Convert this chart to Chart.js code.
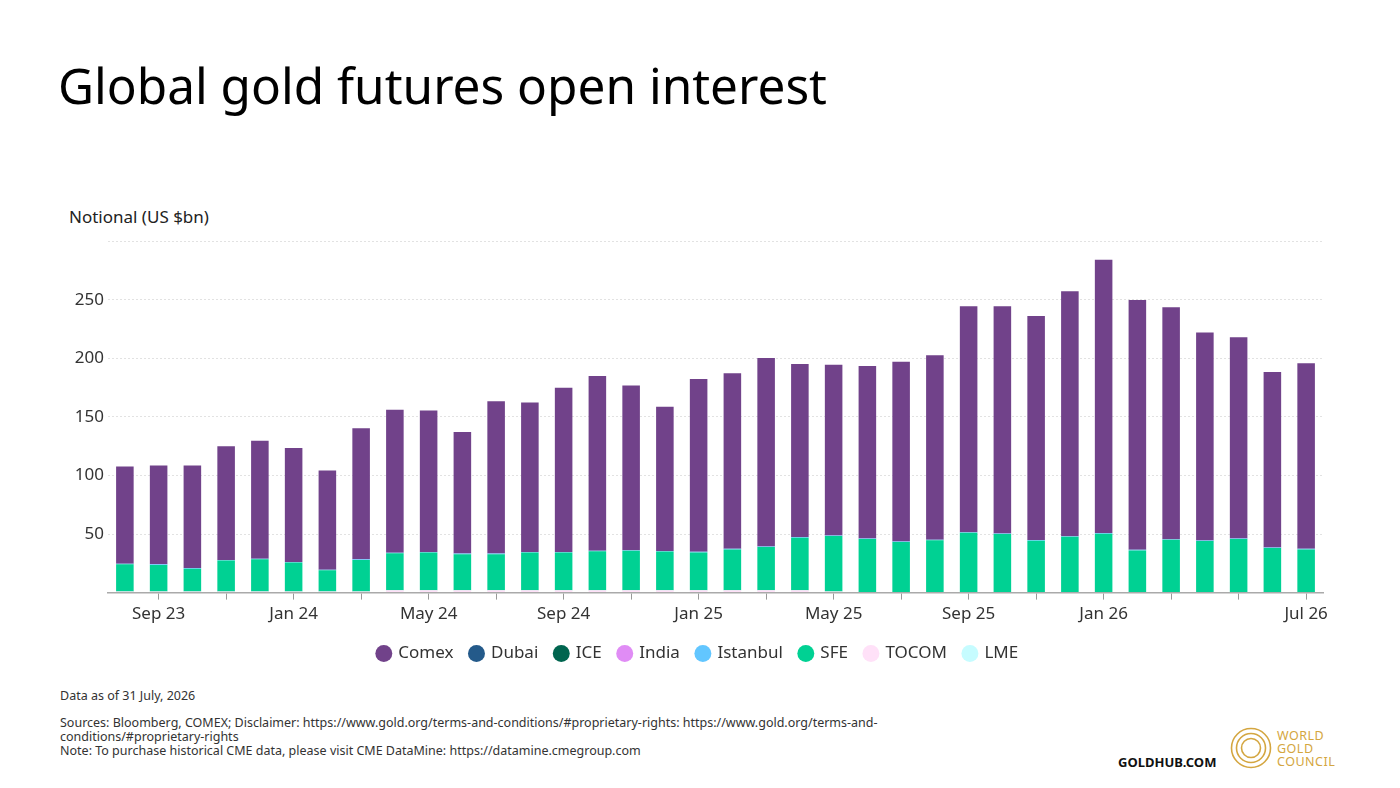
<!DOCTYPE html>
<html>
<head>
<meta charset="utf-8">
<script src="https://cdn.jsdelivr.net/npm/chart.js@4.4.1/dist/chart.umd.min.js"></script>
<style>
  html, body { margin: 0; padding: 0; background: #fff; }
  body { width: 1400px; height: 788px; position: relative; overflow: hidden; font-family: "Noto Sans", sans-serif; color: #222; }
  #title { position: absolute; left: 58px; top: 51px; font-size: 49.5px; color: #000; white-space: nowrap; }
  #ytitle { position: absolute; left: 69px; top: 205px; font-size: 17px; color: #222; }
  #wrap { position: absolute; left: 73px; top: 227px; width: 1266px; height: 445px; }
  .foot { position: absolute; left: 60px; font-size: 12.5px; color: #333; line-height: 14px; }
  #goldhub { position: absolute; left: 1118px; top: 753px; font-size: 13px; font-weight: bold; color: #111; }
  #wgc { position: absolute; left: 1277px; top: 729px; font-size: 12.5px; line-height: 13px; color: #d4a640; letter-spacing: 0.5px; }
  #rings { position: absolute; left: 1230px; top: 727px; }
</style>
</head>
<body>
<div id="title">Global gold futures open interest</div>
<div id="ytitle">Notional (US $bn)</div>
<div id="wrap"><canvas id="chart"></canvas></div>
<div class="foot" style="top:689px">Data as of 31 July, 2026</div>
<div class="foot" style="top:716px">Sources: Bloomberg, COMEX; Disclaimer: https://www.gold.org/terms-and-conditions/#proprietary-rights: https://www.gold.org/terms-and-<br>conditions/#proprietary-rights<br>Note: To purchase historical CME data, please visit CME DataMine: https://datamine.cmegroup.com</div>
<div id="goldhub">GOLDHUB.COM</div>
<svg id="rings" width="42" height="42" viewBox="0 0 42 42">
  <circle cx="21" cy="21" r="19.5" fill="none" stroke="#d4a640" stroke-width="1.6"/>
  <circle cx="21" cy="21" r="14.5" fill="none" stroke="#d4a640" stroke-width="1.6"/>
  <circle cx="21" cy="21" r="9.5" fill="none" stroke="#d4a640" stroke-width="1.6"/>
</svg>
<div id="wgc">WORLD<br>GOLD<br>COUNCIL</div>
<script>
const months = ['Aug 23','Sep 23','Oct 23','Nov 23','Dec 23','Jan 24','Feb 24','Mar 24','Apr 24','May 24','Jun 24','Jul 24',
  'Aug 24','Sep 24','Oct 24','Nov 24','Dec 24','Jan 25','Feb 25','Mar 25','Apr 25','May 25','Jun 25','Jul 25',
  'Aug 25','Sep 25','Oct 25','Nov 25','Dec 25','Jan 26','Feb 26','Mar 26','Apr 26','May 26','Jun 26','Jul 26'];
// which month labels are printed under the axis
const shownLabels = ['Sep 23','Jan 24','May 24','Sep 24','Jan 25','May 25','Sep 25','Jan 26','Jul 26'];
const yTicksShown = [50, 100, 150, 200, 250];

const comex = [83.1,84.5,87.7,97.1,100.8,97.3,84.8,111.9,121.9,120.7,103.8,130.1,
  127.6,140.2,149.1,140.7,123.0,147.5,149.9,160.9,147.7,145.7,147.2,153.5,
  157.5,192.9,194.0,191.3,209.0,233.3,213.2,198.0,177.5,171.7,149.9,158.3];
const dubai = new Array(36).fill(0);
const ice = new Array(36).fill(0);
const india = new Array(36).fill(0);
const istanbul = [0.5,0.5,0.5,0.5,0.5,0.5,0.5,0.5,0.5,0.5,0.5,0.5,
  0.5,0.5,0.5,0.5,0.5,0.5,0.5,0.5,0.5,0.5,0.5,0.5,
  0.5,0.5,0.5,0.5,0.5,0.5,0.5,0.5,0.5,0.5,0.5,0.5];
const sfe = [23.1,22.6,19.4,26.3,27.4,24.6,18.0,26.9,31.6,32.2,30.8,30.8,
  32.2,32.2,33.3,33.7,33.1,32.3,34.9,36.9,44.9,47.3,45.7,43.1,
  44.6,51.1,50.0,44.3,47.7,50.3,36.0,45.1,44.0,45.7,38.0,36.9];
const tocom = [1,1,1,1,1,1,1,1,2,2,2,2,
  2,2,2,2,2,2,2,2,2,1,0,0,
  0,0,0,0,0,0,0,0,0,0,0,0];
const lme = new Array(36).fill(0);

const ctx = document.getElementById('chart').getContext('2d');

function ds(label, data, color) {
  return {label: label, data: data, backgroundColor: color, borderWidth: 0,
    barPercentage: 0.52, categoryPercentage: 1.0, stack: 's'};
}

// bottom of the stack first, legend is reversed
new Chart(ctx, {
  type: 'bar',
  data: {
    labels: months,
    datasets: [
      ds('LME', lme, '#c6fcff'),
      ds('TOCOM', tocom, '#ffe1f8'),
      ds('SFE', sfe, '#00d193'),
      ds('Istanbul', istanbul, '#62c6ff'),
      ds('India', india, '#e08cf5'),
      ds('ICE', ice, '#00654f'),
      ds('Dubai', dubai, '#245a8a'),
      ds('Comex', comex, '#71428a')
    ]
  },
  options: {
    responsive: true,
    maintainAspectRatio: false,
    animation: false,
    layout: {padding: {top: 8, left: 0, right: 16, bottom: 0}},
    plugins: {
      tooltip: {enabled: false},
      legend: {
        position: 'bottom',
        reverse: true,
        labels: {
          usePointStyle: true,
          pointStyle: 'circle',
          boxWidth: 12,
          boxHeight: 12,
          padding: 17,
          color: '#333',
          font: {family: 'Noto Sans', size: 17}
        }
      }
    },
    scales: {
      x: {
        stacked: true,
        grid: {
          offset: false,
          drawOnChartArea: false,
          drawTicks: true,
          tickLength: 7,
          tickColor: c => (c.index % 2 === 1 ? '#999' : 'rgba(0,0,0,0)')
        },
        border: {display: true, color: '#aaa', width: 1.5},
        ticks: {
          autoSkip: false,
          maxRotation: 0,
          padding: 4,
          color: '#333',
          font: {family: 'Noto Sans', size: 17},
          callback: function (v, i) {
            const m = months[i];
            return shownLabels.includes(m) ? m : '';
          }
        }
      },
      y: {
        stacked: true,
        min: 0,
        max: 300,
        afterFit: s => { s.width = 35; },
        ticks: {
          stepSize: 50,
          padding: 4,
          color: '#333',
          font: {family: 'Noto Sans', size: 17},
          callback: v => (yTicksShown.includes(v) ? v : '')
        },
        grid: {color: '#e2e2e2', drawTicks: false, lineWidth: 1},
        border: {display: false, dash: [2, 2]}
      }
    }
  }
});
</script>
</body>
</html>
